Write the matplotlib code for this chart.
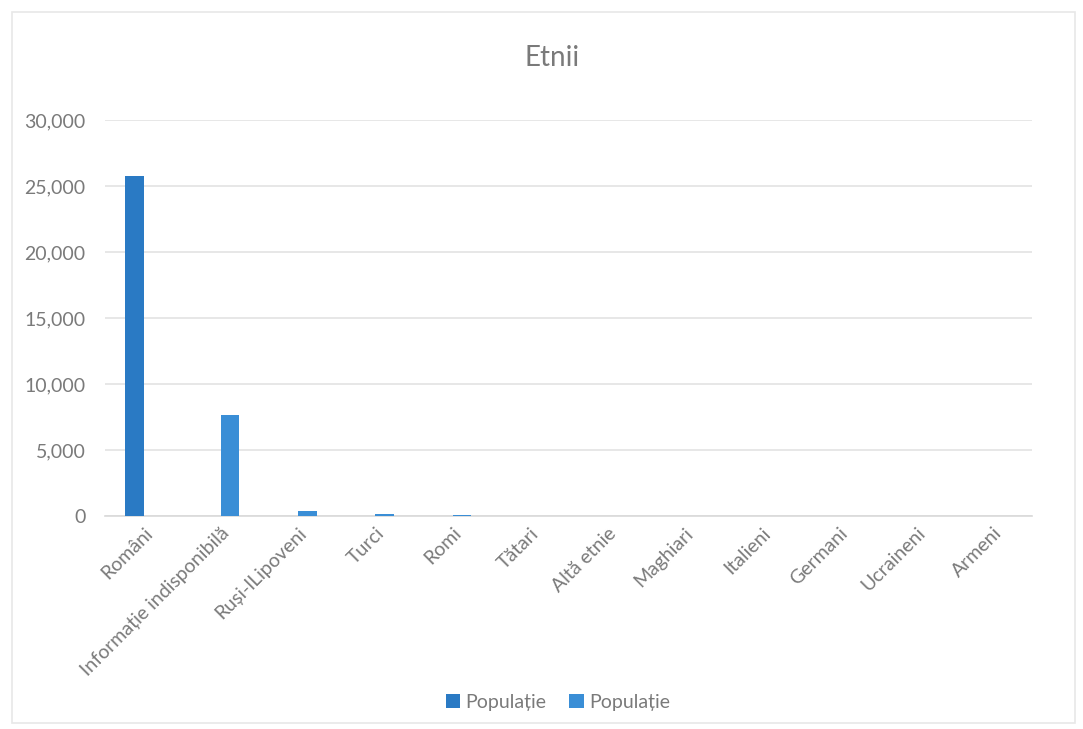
import matplotlib.pyplot as plt
import numpy as np

# categories (ethnic groups)
etnii = ['Români', 'Informație indisponibilă', 'Ruși-lLipoveni', 'Turci', 'Romi',
         'Tătari', 'Altă etnie', 'Maghiari', 'Italieni', 'Germani', 'Ucraineni', 'Armeni']

# first series only has Români, second has the rest
pop1 = [25780, 0, 0, 0, 0, 0, 0, 0, 0, 0, 0, 0]
pop2 = [0, 7700, 420, 160, 70, 25, 20, 15, 12, 10, 8, 5]

yticks = [0, 5000, 10000, 15000, 20000, 25000, 30000]

plt.rcParams['font.family'] = ['Lato', 'DejaVu Sans']

fig = plt.figure(figsize=(10.83, 7.29), dpi=100)
ax = fig.add_axes([0.097, 0.292, 0.856, 0.543])

x = np.arange(len(etnii))
w = 0.24
ax.bar(x - w / 2, pop1, width=w, color='#2A7AC4', label='Populație', zorder=3)
ax.bar(x + w / 2, pop2, width=w, color='#3A8ED6', label='Populație', zorder=3)

ax.set_xlim(-0.5, len(etnii) - 0.5)
ax.set_ylim(0, 30000)
ax.set_yticks(yticks)
ax.set_yticklabels(['{:,}'.format(v) for v in yticks])
ax.yaxis.grid(True, color='#e3e3e3', linewidth=1.2, zorder=0)

ax.set_xticks(x)
ax.set_xticklabels(etnii, rotation=45, ha='right', rotation_mode='anchor')

for s in ['top', 'right', 'left']:
    ax.spines[s].set_visible(False)
ax.spines['bottom'].set_color('#d9d9d9')
ax.spines['bottom'].set_linewidth(1.2)
ax.tick_params(axis='both', length=0, colors='#7a7a7a', labelsize=14)
ax.tick_params(axis='y', pad=14)
ax.tick_params(axis='x', pad=6)

fig.text(0.51, 0.92, 'Etnii', ha='center', va='center', fontsize=20, color='#7a7a7a')

leg = fig.legend(loc='center', bbox_to_anchor=(0.515, 0.037), ncol=2, frameon=False,
                 fontsize=14, handlelength=0.75, handleheight=0.75, handletextpad=0.25,
                 columnspacing=1.2)
for t in leg.get_texts():
    t.set_color('#7a7a7a')

# faint chart border
fig.patches.append(plt.Rectangle((0.011, 0.008), 0.982, 0.975, transform=fig.transFigure,
                                 fill=False, edgecolor='#e8e8e8', linewidth=1.2))

plt.savefig('out.png', dpi=100)
